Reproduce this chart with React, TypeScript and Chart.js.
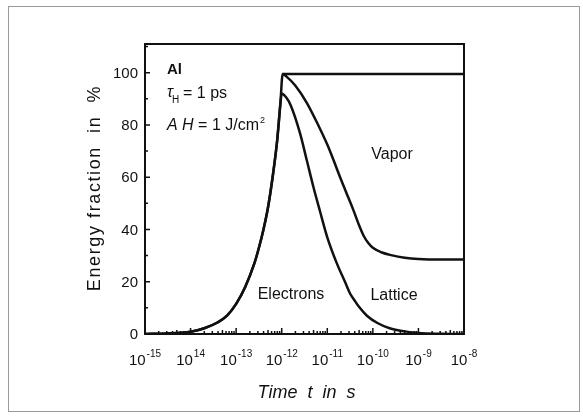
import { useEffect, useRef } from "react";
import { Chart, registerables } from "chart.js";
Chart.register(...registerables);

const FONT = '"Liberation Sans", Arial, sans-serif';

// Shared rising edge (electrons absorb the pulse)
const riseTime = [1e-15, 3.16e-15, 1e-14, 2e-14, 3.98e-14, 6.31e-14, 1e-13, 1.58e-13, 2.51e-13, 3.16e-13, 3.98e-13, 5.01e-13, 6.31e-13, 7.94e-13, 9.33e-13];
const riseValue = [0, 0.2, 0.9, 2.2, 4.5, 7, 11.5, 18, 27, 33, 40, 48.5, 60, 74, 88];

// Electrons decay
const electronTime = [1.02e-12, 1.26e-12, 1.58e-12, 2.51e-12, 3.55e-12, 5.01e-12, 6.92e-12, 1e-11, 1.58e-11, 2.51e-11, 3.16e-11, 3.98e-11, 5.01e-11, 7.41e-11, 1.26e-10, 2.34e-10, 5.01e-10, 1e-9, 3.16e-9, 1e-8];
const electronValue = [92, 90.5, 87.5, 77, 66.5, 56, 47, 37, 27.5, 19.5, 15.5, 12.8, 10.3, 7, 4.2, 2.2, 1, 0.4, 0.1, 0];

// Electrons + lattice decay
const latticeTime = [1.05e-12, 1.26e-12, 2e-12, 3.55e-12, 6.31e-12, 1e-11, 1.41e-11, 1.91e-11, 2.63e-11, 3.72e-11, 5.01e-11, 6.31e-11, 7.94e-11, 1e-10, 1.58e-10, 2.51e-10, 5.01e-10, 1e-9, 3.16e-9, 1e-8];
const latticeValue = [99.5, 98.6, 95, 88.5, 80, 72.5, 66, 60, 54, 47.5, 41.5, 37.5, 34.8, 33, 31.2, 30.2, 29.2, 28.7, 28.5, 28.5];

// Total (electrons + lattice + vapor)
const totalTime = [1.05e-12, 1e-8];
const totalValue = [99.5, 99.5];

const xTickExponents = [-15, -14, -13, -12, -11, -10, -9, -8];
const xTickLabels = ["-15", "14", "-13", "-12", "-11", "-10", "-9", "-8"];
const yTickValues = [0, 20, 40, 60, 80, 100];
const yMinorValues = [10, 30, 50, 70, 90, 110];

function pts(t: number[], v: number[]) {
  return t.map((x, i) => ({ x, y: v[i] }));
}

const INK = "#111";

const drawPlugin = {
  id: "decor",
  afterDraw(chart: any) {
    const ctx = chart.ctx as CanvasRenderingContext2D;
    const ca = chart.chartArea;
    const xs = chart.scales.x;
    const ys = chart.scales.y;
    ctx.save();
    // outer figure frame (scan border)
    ctx.strokeStyle = "#9a9a9a";
    ctx.lineWidth = 1;
    ctx.strokeRect(8.5, 6.5, 571, 405);

    ctx.strokeStyle = INK;
    ctx.fillStyle = INK;
    // plot frame
    ctx.lineWidth = 2;
    ctx.strokeRect(ca.left, ca.top, ca.right - ca.left, ca.bottom - ca.top);

    // y ticks
    ctx.lineWidth = 1.5;
    ctx.beginPath();
    yTickValues.forEach((v) => {
      const y = ys.getPixelForValue(v);
      ctx.moveTo(ca.left, y);
      ctx.lineTo(ca.left + 5, y);
    });
    yMinorValues.forEach((v) => {
      const y = ys.getPixelForValue(v);
      ctx.moveTo(ca.left, y);
      ctx.lineTo(ca.left + 3, y);
    });
    // x ticks
    xTickExponents.forEach((e, i) => {
      const base = Math.pow(10, e);
      const x = xs.getPixelForValue(base);
      ctx.moveTo(x, ca.bottom);
      ctx.lineTo(x, ca.bottom - 6);
      if (i < xTickExponents.length - 1) {
        for (let k = 2; k <= 9; k++) {
          const xm = xs.getPixelForValue(k * base);
          ctx.moveTo(xm, ca.bottom);
          ctx.lineTo(xm, ca.bottom - (k === 5 ? 4 : 3));
        }
      }
    });
    ctx.stroke();

    // y labels
    ctx.font = `15px ${FONT}`;
    ctx.textAlign = "right";
    ctx.textBaseline = "middle";
    yTickValues.forEach((v) => {
      ctx.fillText(String(v), ca.left - 7, ys.getPixelForValue(v) + 1);
    });

    // x labels with superscripts
    ctx.textBaseline = "alphabetic";
    ctx.textAlign = "left";
    xTickExponents.forEach((e, i) => {
      const x = xs.getPixelForValue(Math.pow(10, e));
      ctx.font = `15px ${FONT}`;
      const w1 = ctx.measureText("10").width;
      ctx.font = `10px ${FONT}`;
      const w2 = ctx.measureText(xTickLabels[i]).width;
      const start = x - (w1 + w2 + 1) / 2;
      ctx.font = `15px ${FONT}`;
      ctx.fillText("10", start, 365);
      ctx.font = `10px ${FONT}`;
      ctx.fillText(xTickLabels[i], start + w1 + 1, 357);
    });

    // annotations
    ctx.font = `bold 15px ${FONT}`;
    ctx.fillText("Al", 167, 74);
    ctx.font = `italic 16px ${FONT}`;
    ctx.fillText("\u03c4", 167, 97);
    ctx.font = `10px ${FONT}`;
    ctx.fillText("H", 172, 103);
    ctx.font = `16px ${FONT}`;
    ctx.fillText("= 1 ps", 183, 98);
    ctx.font = `italic 16px ${FONT}`;
    ctx.fillText("A H", 167, 130);
    const wAH = ctx.measureText("A H").width;
    ctx.font = `16px ${FONT}`;
    ctx.fillText(" = 1 J/cm", 167 + wAH, 130);
    const wJ = ctx.measureText(" = 1 J/cm").width;
    ctx.font = `9px ${FONT}`;
    ctx.fillText("2", 167 + wAH + wJ + 1, 123);

    ctx.font = `16px ${FONT}`;
    ctx.textAlign = "center";
    ctx.fillText("Vapor", 392, 159);
    ctx.fillText("Electrons", 291, 299);
    ctx.fillText("Lattice", 394, 300);

    // axis titles
    ctx.font = `italic 18px ${FONT}`;
    ctx.fillText("Time  t  in  s", (ca.left + ca.right) / 2 + 2, 398);

    ctx.save();
    ctx.translate(95, 188);
    ctx.rotate(-Math.PI / 2);
    ctx.font = `18px ${FONT}`;
    (ctx as any).letterSpacing = "1.6px";
    ctx.textBaseline = "middle";
    ctx.fillText("Energy fraction  in  %", 0, 0);
    ctx.restore();

    ctx.restore();
  },
};

export default function App() {
  const ref = useRef<HTMLCanvasElement | null>(null);
  useEffect(() => {
    if (!ref.current) return;
    const common = {
      borderColor: INK,
      borderWidth: 2.5,
      pointRadius: 0,
      fill: false,
      cubicInterpolationMode: "monotone" as const,
    };
    const peak = { x: 1.0e-12, y: 92 };
    const chart = new Chart(ref.current, {
      type: "line",
      data: {
        datasets: [
          { ...common, label: "Electrons", data: [...pts(riseTime, riseValue), peak, ...pts(electronTime, electronValue)] },
          { ...common, label: "Lattice", data: [...pts(riseTime, riseValue), ...pts(latticeTime, latticeValue)] },
          { ...common, label: "Vapor", data: pts(totalTime, totalValue) },
        ],
      },
      options: {
        animation: false,
        responsive: false,
        devicePixelRatio: 1,
        parsing: false as any,
        layout: { padding: { left: 145, top: 44, right: 119, bottom: 82 } },
        plugins: { legend: { display: false }, tooltip: { enabled: false } },
        scales: {
          x: { type: "logarithmic", min: 1e-15, max: 1e-8, display: false },
          y: { type: "linear", min: 0, max: 111, display: false },
        },
      },
      plugins: [drawPlugin],
    });
    return () => chart.destroy();
  }, []);
  return (
    <div style={{ position: "fixed", left: 0, top: 0, width: 583, height: 416, background: "#fff" }}>
      <canvas ref={ref} width={583} height={416} style={{ width: 583, height: 416 }} />
    </div>
  );
}
